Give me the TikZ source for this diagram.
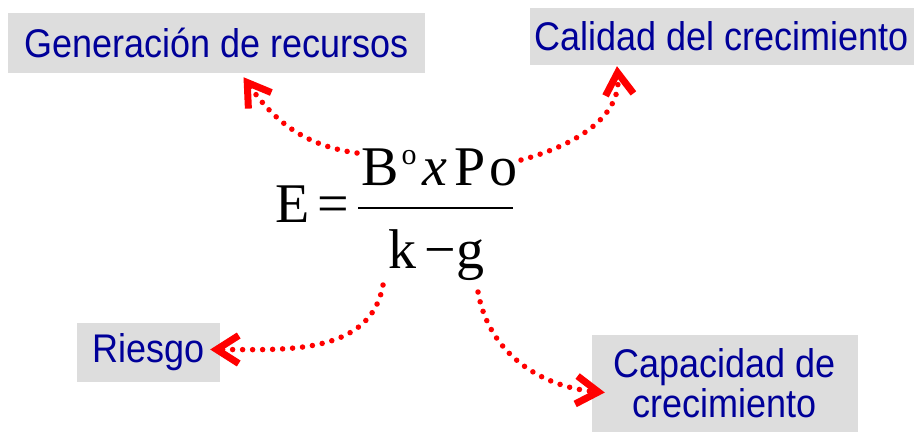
\documentclass[tikz,border=0pt]{standalone}
\usepackage{fontspec}
\setmainfont{Liberation Serif}
\setsansfont{Liberation Sans}[FakeStretch=0.9]
\usetikzlibrary{arrows.meta,positioning}
\definecolor{labelblue}{RGB}{0,0,153}
\definecolor{boxgray}{RGB}{221,221,221}

\begin{document}
\begin{tikzpicture}[
  x=1pt,y=-1pt,
  label box/.style={fill=boxgray,inner sep=0pt,align=center,text=labelblue,
    font=\sffamily\fontsize{40}{40}\selectfont},
  formula/.style={inner sep=0pt,font=\fontsize{56}{60}\selectfont},
  flow/.style={draw=red,line width=5.5pt,line cap=round,dash pattern=on 0pt off 10pt,
    -{Straight Barb[length=22pt,width=28pt,line width=7pt]}}
]
\useasboundingbox (0,0) rectangle (922,432);

% Labels
\node[label box,minimum width=417,minimum height=60] (gen) at (216.5,43) {Generaci\'on de recursos};
\node[label box,minimum width=384,minimum height=57] (cal) at (722,36.5) {Calidad del crecimiento};
\node[label box,minimum width=143,minimum height=59] (rie) at (148.5,352.5) {Riesgo};
\node[label box,minimum width=266,minimum height=97] (cap) at (725,383.5) {Capacidad de\\crecimiento};

% Formula
\node[formula,anchor=base west] (lhs) at (275,222) {E\hspace{8pt}=};
\node[fill=black,inner sep=0pt,minimum width=155,minimum height=2.5] (bar) at (435.5,208) {};
\node[formula,anchor=base west] (num) at (361,185)
  {B\hspace{3pt}\raisebox{21pt}{\fontsize{30}{30}\selectfont o}\hspace{6pt}\textit{x}\hspace{7pt}P\hspace{4pt}o};
\node[formula,anchor=base west] (den) at (388,268) {k\hspace{8pt}\char"2212\hspace{1pt}g};

\coordinate (s1) at (357,153);
\coordinate (s2) at (521,160);
\coordinate (s3) at (383,285);
\coordinate (s4) at (478,292);

% Arrows
\draw[flow] (s1) to[out=172,in=-55] ([xshift=27pt,yshift=-4pt]gen.south);
\draw[flow] (s2) to[out=15,in=-85] ([xshift=-105pt,yshift=-1pt]cal.south);
\draw[flow] (s3) to[out=-100,in=0] ([xshift=-10pt,yshift=3pt]rie.east);
\draw[flow] (s4) to[out=-80,in=175] ([xshift=13pt,yshift=-9pt]cap.west);
\end{tikzpicture}
\end{document}
